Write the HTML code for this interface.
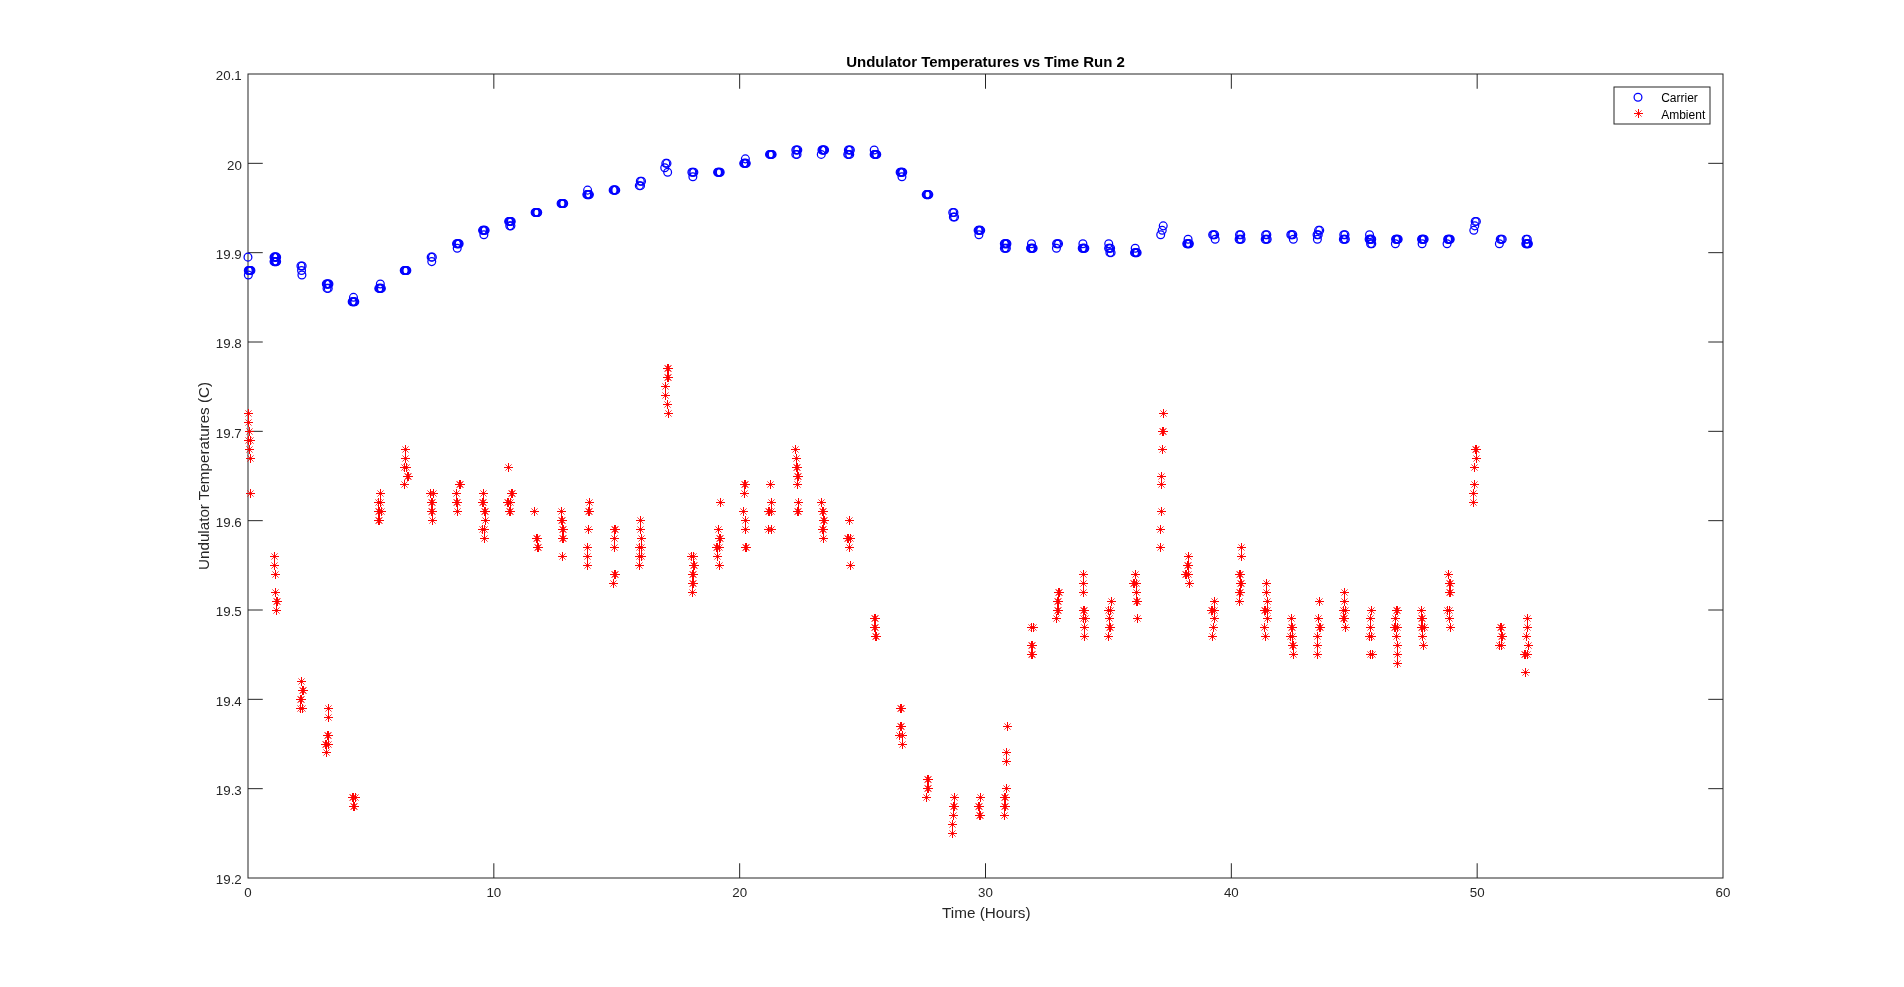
<!DOCTYPE html><html><head><meta charset="utf-8"><title>Undulator Temperatures vs Time Run 2</title>
<style>html,body{margin:0;padding:0;background:#fff;overflow:hidden}svg{display:block;will-change:transform;opacity:0.999}text{font-family:"Liberation Sans",sans-serif}</style></head><body>
<svg width="1904" height="987" viewBox="0 0 1904 987">
<rect width="1904" height="987" fill="#fff"/>
<defs>
<g id="st"><path d="M-4.5 0H4.5M0 -4.5V4.5" stroke="#f00" stroke-width="1" fill="none" shape-rendering="crispEdges"/><path d="M-3.1 -3.1L3.1 3.1M-3.1 3.1L3.1 -3.1" stroke="#f00" stroke-width="0.8" fill="none"/></g>
<circle id="ci" r="3.9" fill="none" stroke="#00f" stroke-width="1.25"/>
</defs>
<g stroke="#262626" stroke-width="1" fill="none">
<rect x="248.0" y="74.0" width="1475.0" height="804.0"/>
<path d="M493.83 878.0V863.25M493.83 74.0V88.75"/>
<path d="M739.67 878.0V863.25M739.67 74.0V88.75"/>
<path d="M985.50 878.0V863.25M985.50 74.0V88.75"/>
<path d="M1231.33 878.0V863.25M1231.33 74.0V88.75"/>
<path d="M1477.17 878.0V863.25M1477.17 74.0V88.75"/>
<path d="M248.0 788.67H262.75M1723.0 788.67H1708.25"/>
<path d="M248.0 699.33H262.75M1723.0 699.33H1708.25"/>
<path d="M248.0 610.00H262.75M1723.0 610.00H1708.25"/>
<path d="M248.0 520.67H262.75M1723.0 520.67H1708.25"/>
<path d="M248.0 431.33H262.75M1723.0 431.33H1708.25"/>
<path d="M248.0 342.00H262.75M1723.0 342.00H1708.25"/>
<path d="M248.0 252.67H262.75M1723.0 252.67H1708.25"/>
<path d="M248.0 163.33H262.75M1723.0 163.33H1708.25"/>
</g>
<g fill="#262626" font-size="13.33px">
<text x="248.00" y="897.3" text-anchor="middle">0</text>
<text x="493.83" y="897.3" text-anchor="middle">10</text>
<text x="739.67" y="897.3" text-anchor="middle">20</text>
<text x="985.50" y="897.3" text-anchor="middle">30</text>
<text x="1231.33" y="897.3" text-anchor="middle">40</text>
<text x="1477.17" y="897.3" text-anchor="middle">50</text>
<text x="1723.00" y="897.3" text-anchor="middle">60</text>
<text x="241.8" y="884.20" text-anchor="end">19.2</text>
<text x="241.8" y="794.87" text-anchor="end">19.3</text>
<text x="241.8" y="705.53" text-anchor="end">19.4</text>
<text x="241.8" y="616.20" text-anchor="end">19.5</text>
<text x="241.8" y="526.87" text-anchor="end">19.6</text>
<text x="241.8" y="437.53" text-anchor="end">19.7</text>
<text x="241.8" y="348.20" text-anchor="end">19.8</text>
<text x="241.8" y="258.87" text-anchor="end">19.9</text>
<text x="241.8" y="169.53" text-anchor="end">20</text>
<text x="241.8" y="80.20" text-anchor="end">20.1</text>
</g>
<text x="986.3" y="917.8" text-anchor="middle" font-size="15.25px" fill="#262626">Time (Hours)</text>
<text transform="translate(208.6,476) rotate(-90)" text-anchor="middle" font-size="15.2px" fill="#262626">Undulator Temperatures (C)</text>
<text x="985.5" y="66.9" text-anchor="middle" font-size="15px" font-weight="bold" fill="#000">Undulator Temperatures vs Time Run 2</text>
<g>
<use href="#ci" x="247.97" y="257.13"/>
<use href="#ci" x="248.31" y="270.53"/>
<use href="#ci" x="248.96" y="270.53"/>
<use href="#ci" x="249.61" y="270.53"/>
<use href="#ci" x="250.26" y="270.53"/>
<use href="#ci" x="250.91" y="270.53"/>
<use href="#ci" x="248.35" y="275.00"/>
<use href="#ci" x="274.03" y="257.13"/>
<use href="#ci" x="274.68" y="257.13"/>
<use href="#ci" x="275.33" y="257.13"/>
<use href="#ci" x="275.98" y="257.13"/>
<use href="#ci" x="276.63" y="257.13"/>
<use href="#ci" x="274.03" y="261.60"/>
<use href="#ci" x="274.68" y="261.60"/>
<use href="#ci" x="275.33" y="261.60"/>
<use href="#ci" x="275.98" y="261.60"/>
<use href="#ci" x="276.63" y="261.60"/>
<use href="#ci" x="300.95" y="266.07"/>
<use href="#ci" x="302.15" y="266.07"/>
<use href="#ci" x="301.55" y="270.53"/>
<use href="#ci" x="301.92" y="275.00"/>
<use href="#ci" x="326.34" y="283.93"/>
<use href="#ci" x="326.99" y="283.93"/>
<use href="#ci" x="327.64" y="283.93"/>
<use href="#ci" x="328.29" y="283.93"/>
<use href="#ci" x="328.94" y="283.93"/>
<use href="#ci" x="327.04" y="288.40"/>
<use href="#ci" x="328.24" y="288.40"/>
<use href="#ci" x="353.48" y="297.33"/>
<use href="#ci" x="352.18" y="301.80"/>
<use href="#ci" x="352.83" y="301.80"/>
<use href="#ci" x="353.48" y="301.80"/>
<use href="#ci" x="354.13" y="301.80"/>
<use href="#ci" x="354.78" y="301.80"/>
<use href="#ci" x="380.33" y="283.93"/>
<use href="#ci" x="378.78" y="288.40"/>
<use href="#ci" x="379.43" y="288.40"/>
<use href="#ci" x="380.08" y="288.40"/>
<use href="#ci" x="380.73" y="288.40"/>
<use href="#ci" x="381.38" y="288.40"/>
<use href="#ci" x="404.24" y="270.53"/>
<use href="#ci" x="404.89" y="270.53"/>
<use href="#ci" x="405.54" y="270.53"/>
<use href="#ci" x="406.19" y="270.53"/>
<use href="#ci" x="406.84" y="270.53"/>
<use href="#ci" x="431.16" y="257.13"/>
<use href="#ci" x="432.36" y="257.13"/>
<use href="#ci" x="431.76" y="261.60"/>
<use href="#ci" x="456.55" y="243.73"/>
<use href="#ci" x="457.20" y="243.73"/>
<use href="#ci" x="457.85" y="243.73"/>
<use href="#ci" x="458.50" y="243.73"/>
<use href="#ci" x="459.15" y="243.73"/>
<use href="#ci" x="457.22" y="248.20"/>
<use href="#ci" x="482.57" y="230.33"/>
<use href="#ci" x="483.22" y="230.33"/>
<use href="#ci" x="483.87" y="230.33"/>
<use href="#ci" x="484.52" y="230.33"/>
<use href="#ci" x="485.17" y="230.33"/>
<use href="#ci" x="483.87" y="234.80"/>
<use href="#ci" x="508.66" y="221.40"/>
<use href="#ci" x="509.31" y="221.40"/>
<use href="#ci" x="509.96" y="221.40"/>
<use href="#ci" x="510.61" y="221.40"/>
<use href="#ci" x="511.26" y="221.40"/>
<use href="#ci" x="509.74" y="225.87"/>
<use href="#ci" x="510.94" y="225.87"/>
<use href="#ci" x="535.13" y="212.47"/>
<use href="#ci" x="535.78" y="212.47"/>
<use href="#ci" x="536.43" y="212.47"/>
<use href="#ci" x="537.08" y="212.47"/>
<use href="#ci" x="537.73" y="212.47"/>
<use href="#ci" x="561.09" y="203.53"/>
<use href="#ci" x="561.74" y="203.53"/>
<use href="#ci" x="562.39" y="203.53"/>
<use href="#ci" x="563.04" y="203.53"/>
<use href="#ci" x="563.69" y="203.53"/>
<use href="#ci" x="587.61" y="190.13"/>
<use href="#ci" x="586.81" y="194.60"/>
<use href="#ci" x="587.46" y="194.60"/>
<use href="#ci" x="588.11" y="194.60"/>
<use href="#ci" x="588.76" y="194.60"/>
<use href="#ci" x="589.41" y="194.60"/>
<use href="#ci" x="613.15" y="190.13"/>
<use href="#ci" x="613.80" y="190.13"/>
<use href="#ci" x="614.45" y="190.13"/>
<use href="#ci" x="615.10" y="190.13"/>
<use href="#ci" x="615.75" y="190.13"/>
<use href="#ci" x="640.32" y="181.20"/>
<use href="#ci" x="641.52" y="181.20"/>
<use href="#ci" x="639.32" y="185.67"/>
<use href="#ci" x="640.52" y="185.67"/>
<use href="#ci" x="665.79" y="163.33"/>
<use href="#ci" x="666.99" y="163.33"/>
<use href="#ci" x="664.75" y="167.80"/>
<use href="#ci" x="667.65" y="172.27"/>
<use href="#ci" x="691.86" y="172.27"/>
<use href="#ci" x="692.86" y="172.27"/>
<use href="#ci" x="693.86" y="172.27"/>
<use href="#ci" x="692.86" y="176.73"/>
<use href="#ci" x="717.61" y="172.27"/>
<use href="#ci" x="718.26" y="172.27"/>
<use href="#ci" x="718.91" y="172.27"/>
<use href="#ci" x="719.56" y="172.27"/>
<use href="#ci" x="720.21" y="172.27"/>
<use href="#ci" x="745.38" y="158.87"/>
<use href="#ci" x="743.70" y="163.33"/>
<use href="#ci" x="744.35" y="163.33"/>
<use href="#ci" x="745.00" y="163.33"/>
<use href="#ci" x="745.65" y="163.33"/>
<use href="#ci" x="746.30" y="163.33"/>
<use href="#ci" x="769.54" y="154.40"/>
<use href="#ci" x="770.19" y="154.40"/>
<use href="#ci" x="770.84" y="154.40"/>
<use href="#ci" x="771.49" y="154.40"/>
<use href="#ci" x="772.14" y="154.40"/>
<use href="#ci" x="795.81" y="149.93"/>
<use href="#ci" x="796.81" y="149.93"/>
<use href="#ci" x="797.81" y="149.93"/>
<use href="#ci" x="795.83" y="154.40"/>
<use href="#ci" x="797.03" y="154.40"/>
<use href="#ci" x="821.98" y="149.93"/>
<use href="#ci" x="822.63" y="149.93"/>
<use href="#ci" x="823.28" y="149.93"/>
<use href="#ci" x="823.93" y="149.93"/>
<use href="#ci" x="824.58" y="149.93"/>
<use href="#ci" x="821.26" y="154.40"/>
<use href="#ci" x="848.37" y="149.93"/>
<use href="#ci" x="849.37" y="149.93"/>
<use href="#ci" x="850.37" y="149.93"/>
<use href="#ci" x="847.74" y="154.40"/>
<use href="#ci" x="848.74" y="154.40"/>
<use href="#ci" x="849.74" y="154.40"/>
<use href="#ci" x="874.20" y="149.93"/>
<use href="#ci" x="874.16" y="154.40"/>
<use href="#ci" x="874.81" y="154.40"/>
<use href="#ci" x="875.46" y="154.40"/>
<use href="#ci" x="876.11" y="154.40"/>
<use href="#ci" x="876.76" y="154.40"/>
<use href="#ci" x="900.13" y="172.27"/>
<use href="#ci" x="900.78" y="172.27"/>
<use href="#ci" x="901.43" y="172.27"/>
<use href="#ci" x="902.08" y="172.27"/>
<use href="#ci" x="902.73" y="172.27"/>
<use href="#ci" x="901.93" y="176.73"/>
<use href="#ci" x="926.22" y="194.60"/>
<use href="#ci" x="926.87" y="194.60"/>
<use href="#ci" x="927.52" y="194.60"/>
<use href="#ci" x="928.17" y="194.60"/>
<use href="#ci" x="928.82" y="194.60"/>
<use href="#ci" x="952.72" y="212.47"/>
<use href="#ci" x="953.92" y="212.47"/>
<use href="#ci" x="953.35" y="216.93"/>
<use href="#ci" x="954.55" y="216.93"/>
<use href="#ci" x="978.11" y="230.33"/>
<use href="#ci" x="978.76" y="230.33"/>
<use href="#ci" x="979.41" y="230.33"/>
<use href="#ci" x="980.06" y="230.33"/>
<use href="#ci" x="980.71" y="230.33"/>
<use href="#ci" x="978.91" y="234.80"/>
<use href="#ci" x="1004.33" y="243.73"/>
<use href="#ci" x="1004.98" y="243.73"/>
<use href="#ci" x="1005.63" y="243.73"/>
<use href="#ci" x="1006.28" y="243.73"/>
<use href="#ci" x="1006.93" y="243.73"/>
<use href="#ci" x="1004.38" y="248.20"/>
<use href="#ci" x="1005.38" y="248.20"/>
<use href="#ci" x="1006.38" y="248.20"/>
<use href="#ci" x="1031.47" y="243.73"/>
<use href="#ci" x="1030.55" y="248.20"/>
<use href="#ci" x="1031.20" y="248.20"/>
<use href="#ci" x="1031.85" y="248.20"/>
<use href="#ci" x="1032.50" y="248.20"/>
<use href="#ci" x="1033.15" y="248.20"/>
<use href="#ci" x="1056.56" y="243.73"/>
<use href="#ci" x="1057.56" y="243.73"/>
<use href="#ci" x="1058.56" y="243.73"/>
<use href="#ci" x="1056.43" y="248.20"/>
<use href="#ci" x="1082.90" y="243.73"/>
<use href="#ci" x="1082.23" y="248.20"/>
<use href="#ci" x="1082.88" y="248.20"/>
<use href="#ci" x="1083.53" y="248.20"/>
<use href="#ci" x="1084.18" y="248.20"/>
<use href="#ci" x="1084.83" y="248.20"/>
<use href="#ci" x="1108.74" y="243.73"/>
<use href="#ci" x="1108.62" y="248.20"/>
<use href="#ci" x="1109.62" y="248.20"/>
<use href="#ci" x="1110.62" y="248.20"/>
<use href="#ci" x="1109.90" y="252.67"/>
<use href="#ci" x="1111.10" y="252.67"/>
<use href="#ci" x="1135.21" y="248.20"/>
<use href="#ci" x="1134.54" y="252.67"/>
<use href="#ci" x="1135.19" y="252.67"/>
<use href="#ci" x="1135.84" y="252.67"/>
<use href="#ci" x="1136.49" y="252.67"/>
<use href="#ci" x="1137.14" y="252.67"/>
<use href="#ci" x="1163.24" y="225.87"/>
<use href="#ci" x="1162.23" y="230.33"/>
<use href="#ci" x="1160.71" y="234.80"/>
<use href="#ci" x="1188.07" y="239.27"/>
<use href="#ci" x="1186.77" y="243.73"/>
<use href="#ci" x="1187.42" y="243.73"/>
<use href="#ci" x="1188.07" y="243.73"/>
<use href="#ci" x="1188.72" y="243.73"/>
<use href="#ci" x="1189.37" y="243.73"/>
<use href="#ci" x="1212.66" y="234.80"/>
<use href="#ci" x="1213.66" y="234.80"/>
<use href="#ci" x="1214.66" y="234.80"/>
<use href="#ci" x="1215.17" y="239.27"/>
<use href="#ci" x="1239.53" y="234.80"/>
<use href="#ci" x="1240.73" y="234.80"/>
<use href="#ci" x="1239.13" y="239.27"/>
<use href="#ci" x="1240.13" y="239.27"/>
<use href="#ci" x="1241.13" y="239.27"/>
<use href="#ci" x="1265.62" y="234.80"/>
<use href="#ci" x="1266.82" y="234.80"/>
<use href="#ci" x="1265.22" y="239.27"/>
<use href="#ci" x="1266.22" y="239.27"/>
<use href="#ci" x="1267.22" y="239.27"/>
<use href="#ci" x="1290.81" y="234.80"/>
<use href="#ci" x="1291.81" y="234.80"/>
<use href="#ci" x="1292.81" y="234.80"/>
<use href="#ci" x="1293.32" y="239.27"/>
<use href="#ci" x="1318.56" y="230.33"/>
<use href="#ci" x="1319.76" y="230.33"/>
<use href="#ci" x="1317.05" y="234.80"/>
<use href="#ci" x="1318.25" y="234.80"/>
<use href="#ci" x="1317.39" y="239.27"/>
<use href="#ci" x="1343.77" y="234.80"/>
<use href="#ci" x="1344.97" y="234.80"/>
<use href="#ci" x="1343.37" y="239.27"/>
<use href="#ci" x="1344.37" y="239.27"/>
<use href="#ci" x="1345.37" y="239.27"/>
<use href="#ci" x="1369.54" y="234.80"/>
<use href="#ci" x="1369.12" y="239.27"/>
<use href="#ci" x="1369.77" y="239.27"/>
<use href="#ci" x="1370.42" y="239.27"/>
<use href="#ci" x="1371.07" y="239.27"/>
<use href="#ci" x="1371.72" y="239.27"/>
<use href="#ci" x="1370.58" y="243.73"/>
<use href="#ci" x="1371.78" y="243.73"/>
<use href="#ci" x="1395.59" y="239.27"/>
<use href="#ci" x="1396.24" y="239.27"/>
<use href="#ci" x="1396.89" y="239.27"/>
<use href="#ci" x="1397.54" y="239.27"/>
<use href="#ci" x="1398.19" y="239.27"/>
<use href="#ci" x="1395.38" y="243.73"/>
<use href="#ci" x="1421.56" y="239.27"/>
<use href="#ci" x="1422.21" y="239.27"/>
<use href="#ci" x="1422.86" y="239.27"/>
<use href="#ci" x="1423.51" y="239.27"/>
<use href="#ci" x="1424.16" y="239.27"/>
<use href="#ci" x="1422.10" y="243.73"/>
<use href="#ci" x="1447.65" y="239.27"/>
<use href="#ci" x="1448.30" y="239.27"/>
<use href="#ci" x="1448.95" y="239.27"/>
<use href="#ci" x="1449.60" y="239.27"/>
<use href="#ci" x="1450.25" y="239.27"/>
<use href="#ci" x="1447.06" y="243.73"/>
<use href="#ci" x="1475.20" y="221.40"/>
<use href="#ci" x="1476.40" y="221.40"/>
<use href="#ci" x="1474.79" y="225.87"/>
<use href="#ci" x="1473.78" y="230.33"/>
<use href="#ci" x="1500.26" y="239.27"/>
<use href="#ci" x="1501.26" y="239.27"/>
<use href="#ci" x="1502.26" y="239.27"/>
<use href="#ci" x="1499.37" y="243.73"/>
<use href="#ci" x="1526.12" y="239.27"/>
<use href="#ci" x="1527.32" y="239.27"/>
<use href="#ci" x="1525.80" y="243.73"/>
<use href="#ci" x="1526.45" y="243.73"/>
<use href="#ci" x="1527.10" y="243.73"/>
<use href="#ci" x="1527.75" y="243.73"/>
<use href="#ci" x="1528.40" y="243.73"/>
</g>
<g>
<use href="#st" x="248.5" y="413.5"/>
<use href="#st" x="248.5" y="422.5"/>
<use href="#st" x="249.5" y="431.5"/>
<use href="#st" x="248.5" y="440.5"/>
<use href="#st" x="250.5" y="440.5"/>
<use href="#st" x="249.5" y="449.5"/>
<use href="#st" x="250.5" y="458.5"/>
<use href="#st" x="250.5" y="493.5"/>
<use href="#st" x="274.5" y="556.5"/>
<use href="#st" x="274.5" y="565.5"/>
<use href="#st" x="275.5" y="574.5"/>
<use href="#st" x="275.5" y="592.5"/>
<use href="#st" x="276.5" y="601.5"/>
<use href="#st" x="277.5" y="601.5"/>
<use href="#st" x="276.5" y="610.5"/>
<use href="#st" x="380.5" y="493.5"/>
<use href="#st" x="378.5" y="502.5"/>
<use href="#st" x="380.5" y="502.5"/>
<use href="#st" x="378.5" y="511.5"/>
<use href="#st" x="379.5" y="511.5"/>
<use href="#st" x="381.5" y="511.5"/>
<use href="#st" x="378.5" y="520.5"/>
<use href="#st" x="379.5" y="520.5"/>
<use href="#st" x="405.5" y="449.5"/>
<use href="#st" x="405.5" y="458.5"/>
<use href="#st" x="404.5" y="467.5"/>
<use href="#st" x="406.5" y="467.5"/>
<use href="#st" x="407.5" y="476.5"/>
<use href="#st" x="408.5" y="476.5"/>
<use href="#st" x="404.5" y="484.5"/>
<use href="#st" x="430.5" y="493.5"/>
<use href="#st" x="433.5" y="493.5"/>
<use href="#st" x="431.5" y="502.5"/>
<use href="#st" x="432.5" y="502.5"/>
<use href="#st" x="431.5" y="511.5"/>
<use href="#st" x="432.5" y="511.5"/>
<use href="#st" x="432.5" y="520.5"/>
<use href="#st" x="459.5" y="484.5"/>
<use href="#st" x="460.5" y="484.5"/>
<use href="#st" x="456.5" y="493.5"/>
<use href="#st" x="456.5" y="502.5"/>
<use href="#st" x="457.5" y="502.5"/>
<use href="#st" x="457.5" y="511.5"/>
<use href="#st" x="483.5" y="493.5"/>
<use href="#st" x="482.5" y="502.5"/>
<use href="#st" x="483.5" y="502.5"/>
<use href="#st" x="484.5" y="511.5"/>
<use href="#st" x="485.5" y="511.5"/>
<use href="#st" x="485.5" y="520.5"/>
<use href="#st" x="482.5" y="529.5"/>
<use href="#st" x="484.5" y="529.5"/>
<use href="#st" x="484.5" y="538.5"/>
<use href="#st" x="508.5" y="467.5"/>
<use href="#st" x="511.5" y="493.5"/>
<use href="#st" x="512.5" y="493.5"/>
<use href="#st" x="507.5" y="502.5"/>
<use href="#st" x="508.5" y="502.5"/>
<use href="#st" x="510.5" y="502.5"/>
<use href="#st" x="509.5" y="511.5"/>
<use href="#st" x="510.5" y="511.5"/>
<use href="#st" x="534.5" y="511.5"/>
<use href="#st" x="536.5" y="538.5"/>
<use href="#st" x="537.5" y="538.5"/>
<use href="#st" x="537.5" y="547.5"/>
<use href="#st" x="538.5" y="547.5"/>
<use href="#st" x="561.5" y="511.5"/>
<use href="#st" x="561.5" y="520.5"/>
<use href="#st" x="562.5" y="520.5"/>
<use href="#st" x="562.5" y="529.5"/>
<use href="#st" x="563.5" y="529.5"/>
<use href="#st" x="562.5" y="538.5"/>
<use href="#st" x="563.5" y="538.5"/>
<use href="#st" x="562.5" y="556.5"/>
<use href="#st" x="589.5" y="502.5"/>
<use href="#st" x="588.5" y="511.5"/>
<use href="#st" x="589.5" y="511.5"/>
<use href="#st" x="588.5" y="529.5"/>
<use href="#st" x="587.5" y="547.5"/>
<use href="#st" x="587.5" y="556.5"/>
<use href="#st" x="587.5" y="565.5"/>
<use href="#st" x="614.5" y="529.5"/>
<use href="#st" x="615.5" y="529.5"/>
<use href="#st" x="614.5" y="538.5"/>
<use href="#st" x="614.5" y="547.5"/>
<use href="#st" x="614.5" y="574.5"/>
<use href="#st" x="615.5" y="574.5"/>
<use href="#st" x="613.5" y="583.5"/>
<use href="#st" x="640.5" y="520.5"/>
<use href="#st" x="640.5" y="529.5"/>
<use href="#st" x="641.5" y="538.5"/>
<use href="#st" x="639.5" y="547.5"/>
<use href="#st" x="641.5" y="547.5"/>
<use href="#st" x="639.5" y="556.5"/>
<use href="#st" x="641.5" y="556.5"/>
<use href="#st" x="639.5" y="565.5"/>
<use href="#st" x="667.5" y="368.5"/>
<use href="#st" x="668.5" y="368.5"/>
<use href="#st" x="667.5" y="377.5"/>
<use href="#st" x="668.5" y="377.5"/>
<use href="#st" x="665.5" y="386.5"/>
<use href="#st" x="665.5" y="395.5"/>
<use href="#st" x="667.5" y="404.5"/>
<use href="#st" x="668.5" y="413.5"/>
<use href="#st" x="691.5" y="556.5"/>
<use href="#st" x="693.5" y="556.5"/>
<use href="#st" x="693.5" y="565.5"/>
<use href="#st" x="694.5" y="565.5"/>
<use href="#st" x="692.5" y="574.5"/>
<use href="#st" x="693.5" y="574.5"/>
<use href="#st" x="692.5" y="583.5"/>
<use href="#st" x="693.5" y="583.5"/>
<use href="#st" x="692.5" y="592.5"/>
<use href="#st" x="720.5" y="502.5"/>
<use href="#st" x="718.5" y="529.5"/>
<use href="#st" x="719.5" y="538.5"/>
<use href="#st" x="720.5" y="538.5"/>
<use href="#st" x="716.5" y="547.5"/>
<use href="#st" x="717.5" y="547.5"/>
<use href="#st" x="719.5" y="547.5"/>
<use href="#st" x="717.5" y="556.5"/>
<use href="#st" x="719.5" y="565.5"/>
<use href="#st" x="744.5" y="484.5"/>
<use href="#st" x="745.5" y="484.5"/>
<use href="#st" x="744.5" y="493.5"/>
<use href="#st" x="743.5" y="511.5"/>
<use href="#st" x="745.5" y="520.5"/>
<use href="#st" x="745.5" y="529.5"/>
<use href="#st" x="745.5" y="547.5"/>
<use href="#st" x="746.5" y="547.5"/>
<use href="#st" x="770.5" y="484.5"/>
<use href="#st" x="771.5" y="502.5"/>
<use href="#st" x="768.5" y="511.5"/>
<use href="#st" x="769.5" y="511.5"/>
<use href="#st" x="771.5" y="511.5"/>
<use href="#st" x="768.5" y="529.5"/>
<use href="#st" x="771.5" y="529.5"/>
<use href="#st" x="795.5" y="449.5"/>
<use href="#st" x="796.5" y="458.5"/>
<use href="#st" x="796.5" y="467.5"/>
<use href="#st" x="797.5" y="467.5"/>
<use href="#st" x="797.5" y="476.5"/>
<use href="#st" x="798.5" y="476.5"/>
<use href="#st" x="797.5" y="484.5"/>
<use href="#st" x="798.5" y="502.5"/>
<use href="#st" x="797.5" y="511.5"/>
<use href="#st" x="798.5" y="511.5"/>
<use href="#st" x="821.5" y="502.5"/>
<use href="#st" x="822.5" y="511.5"/>
<use href="#st" x="823.5" y="511.5"/>
<use href="#st" x="823.5" y="520.5"/>
<use href="#st" x="824.5" y="520.5"/>
<use href="#st" x="822.5" y="529.5"/>
<use href="#st" x="823.5" y="529.5"/>
<use href="#st" x="823.5" y="538.5"/>
<use href="#st" x="849.5" y="520.5"/>
<use href="#st" x="847.5" y="538.5"/>
<use href="#st" x="848.5" y="538.5"/>
<use href="#st" x="850.5" y="538.5"/>
<use href="#st" x="849.5" y="547.5"/>
<use href="#st" x="850.5" y="565.5"/>
<use href="#st" x="874.5" y="618.5"/>
<use href="#st" x="875.5" y="618.5"/>
<use href="#st" x="874.5" y="627.5"/>
<use href="#st" x="875.5" y="627.5"/>
<use href="#st" x="875.5" y="636.5"/>
<use href="#st" x="876.5" y="636.5"/>
<use href="#st" x="1031.5" y="627.5"/>
<use href="#st" x="1033.5" y="627.5"/>
<use href="#st" x="1031.5" y="645.5"/>
<use href="#st" x="1032.5" y="645.5"/>
<use href="#st" x="1031.5" y="654.5"/>
<use href="#st" x="1032.5" y="654.5"/>
<use href="#st" x="1058.5" y="592.5"/>
<use href="#st" x="1059.5" y="592.5"/>
<use href="#st" x="1057.5" y="601.5"/>
<use href="#st" x="1058.5" y="601.5"/>
<use href="#st" x="1057.5" y="610.5"/>
<use href="#st" x="1058.5" y="610.5"/>
<use href="#st" x="1056.5" y="618.5"/>
<use href="#st" x="1083.5" y="574.5"/>
<use href="#st" x="1083.5" y="583.5"/>
<use href="#st" x="1083.5" y="592.5"/>
<use href="#st" x="1083.5" y="610.5"/>
<use href="#st" x="1084.5" y="610.5"/>
<use href="#st" x="1083.5" y="618.5"/>
<use href="#st" x="1085.5" y="618.5"/>
<use href="#st" x="1084.5" y="627.5"/>
<use href="#st" x="1084.5" y="636.5"/>
<use href="#st" x="301.5" y="681.5"/>
<use href="#st" x="302.5" y="690.5"/>
<use href="#st" x="303.5" y="690.5"/>
<use href="#st" x="300.5" y="699.5"/>
<use href="#st" x="301.5" y="699.5"/>
<use href="#st" x="300.5" y="708.5"/>
<use href="#st" x="302.5" y="708.5"/>
<use href="#st" x="328.5" y="708.5"/>
<use href="#st" x="328.5" y="717.5"/>
<use href="#st" x="327.5" y="735.5"/>
<use href="#st" x="328.5" y="735.5"/>
<use href="#st" x="325.5" y="744.5"/>
<use href="#st" x="326.5" y="744.5"/>
<use href="#st" x="328.5" y="744.5"/>
<use href="#st" x="326.5" y="752.5"/>
<use href="#st" x="352.5" y="797.5"/>
<use href="#st" x="353.5" y="797.5"/>
<use href="#st" x="355.5" y="797.5"/>
<use href="#st" x="353.5" y="806.5"/>
<use href="#st" x="354.5" y="806.5"/>
<use href="#st" x="900.5" y="708.5"/>
<use href="#st" x="901.5" y="708.5"/>
<use href="#st" x="900.5" y="726.5"/>
<use href="#st" x="901.5" y="726.5"/>
<use href="#st" x="899.5" y="735.5"/>
<use href="#st" x="902.5" y="735.5"/>
<use href="#st" x="902.5" y="744.5"/>
<use href="#st" x="927.5" y="779.5"/>
<use href="#st" x="928.5" y="779.5"/>
<use href="#st" x="927.5" y="788.5"/>
<use href="#st" x="928.5" y="788.5"/>
<use href="#st" x="926.5" y="797.5"/>
<use href="#st" x="954.5" y="797.5"/>
<use href="#st" x="953.5" y="806.5"/>
<use href="#st" x="954.5" y="806.5"/>
<use href="#st" x="953.5" y="815.5"/>
<use href="#st" x="952.5" y="824.5"/>
<use href="#st" x="952.5" y="833.5"/>
<use href="#st" x="980.5" y="797.5"/>
<use href="#st" x="978.5" y="806.5"/>
<use href="#st" x="979.5" y="806.5"/>
<use href="#st" x="979.5" y="815.5"/>
<use href="#st" x="980.5" y="815.5"/>
<use href="#st" x="1007.5" y="726.5"/>
<use href="#st" x="1006.5" y="752.5"/>
<use href="#st" x="1006.5" y="761.5"/>
<use href="#st" x="1006.5" y="788.5"/>
<use href="#st" x="1004.5" y="797.5"/>
<use href="#st" x="1005.5" y="797.5"/>
<use href="#st" x="1004.5" y="806.5"/>
<use href="#st" x="1005.5" y="806.5"/>
<use href="#st" x="1004.5" y="815.5"/>
<use href="#st" x="1111.5" y="601.5"/>
<use href="#st" x="1108.5" y="610.5"/>
<use href="#st" x="1110.5" y="610.5"/>
<use href="#st" x="1109.5" y="618.5"/>
<use href="#st" x="1109.5" y="627.5"/>
<use href="#st" x="1110.5" y="627.5"/>
<use href="#st" x="1108.5" y="636.5"/>
<use href="#st" x="1135.5" y="574.5"/>
<use href="#st" x="1133.5" y="583.5"/>
<use href="#st" x="1134.5" y="583.5"/>
<use href="#st" x="1136.5" y="583.5"/>
<use href="#st" x="1136.5" y="592.5"/>
<use href="#st" x="1136.5" y="601.5"/>
<use href="#st" x="1137.5" y="601.5"/>
<use href="#st" x="1137.5" y="618.5"/>
<use href="#st" x="1163.5" y="413.5"/>
<use href="#st" x="1162.5" y="431.5"/>
<use href="#st" x="1163.5" y="431.5"/>
<use href="#st" x="1162.5" y="449.5"/>
<use href="#st" x="1161.5" y="476.5"/>
<use href="#st" x="1161.5" y="484.5"/>
<use href="#st" x="1161.5" y="511.5"/>
<use href="#st" x="1160.5" y="529.5"/>
<use href="#st" x="1160.5" y="547.5"/>
<use href="#st" x="1188.5" y="556.5"/>
<use href="#st" x="1187.5" y="565.5"/>
<use href="#st" x="1188.5" y="565.5"/>
<use href="#st" x="1185.5" y="574.5"/>
<use href="#st" x="1186.5" y="574.5"/>
<use href="#st" x="1188.5" y="574.5"/>
<use href="#st" x="1189.5" y="583.5"/>
<use href="#st" x="1214.5" y="601.5"/>
<use href="#st" x="1211.5" y="610.5"/>
<use href="#st" x="1212.5" y="610.5"/>
<use href="#st" x="1214.5" y="610.5"/>
<use href="#st" x="1214.5" y="618.5"/>
<use href="#st" x="1213.5" y="627.5"/>
<use href="#st" x="1212.5" y="636.5"/>
<use href="#st" x="1241.5" y="547.5"/>
<use href="#st" x="1241.5" y="556.5"/>
<use href="#st" x="1239.5" y="574.5"/>
<use href="#st" x="1240.5" y="574.5"/>
<use href="#st" x="1240.5" y="583.5"/>
<use href="#st" x="1241.5" y="583.5"/>
<use href="#st" x="1239.5" y="592.5"/>
<use href="#st" x="1240.5" y="592.5"/>
<use href="#st" x="1239.5" y="601.5"/>
<use href="#st" x="1266.5" y="583.5"/>
<use href="#st" x="1266.5" y="592.5"/>
<use href="#st" x="1267.5" y="601.5"/>
<use href="#st" x="1264.5" y="610.5"/>
<use href="#st" x="1265.5" y="610.5"/>
<use href="#st" x="1267.5" y="610.5"/>
<use href="#st" x="1267.5" y="618.5"/>
<use href="#st" x="1264.5" y="627.5"/>
<use href="#st" x="1265.5" y="636.5"/>
<use href="#st" x="1291.5" y="618.5"/>
<use href="#st" x="1291.5" y="627.5"/>
<use href="#st" x="1292.5" y="627.5"/>
<use href="#st" x="1290.5" y="636.5"/>
<use href="#st" x="1292.5" y="636.5"/>
<use href="#st" x="1292.5" y="645.5"/>
<use href="#st" x="1293.5" y="645.5"/>
<use href="#st" x="1293.5" y="654.5"/>
<use href="#st" x="1319.5" y="601.5"/>
<use href="#st" x="1318.5" y="618.5"/>
<use href="#st" x="1319.5" y="627.5"/>
<use href="#st" x="1320.5" y="627.5"/>
<use href="#st" x="1317.5" y="636.5"/>
<use href="#st" x="1317.5" y="645.5"/>
<use href="#st" x="1317.5" y="654.5"/>
<use href="#st" x="1344.5" y="592.5"/>
<use href="#st" x="1344.5" y="601.5"/>
<use href="#st" x="1343.5" y="610.5"/>
<use href="#st" x="1345.5" y="610.5"/>
<use href="#st" x="1343.5" y="618.5"/>
<use href="#st" x="1344.5" y="618.5"/>
<use href="#st" x="1345.5" y="627.5"/>
<use href="#st" x="1371.5" y="610.5"/>
<use href="#st" x="1370.5" y="618.5"/>
<use href="#st" x="1370.5" y="627.5"/>
<use href="#st" x="1369.5" y="636.5"/>
<use href="#st" x="1371.5" y="636.5"/>
<use href="#st" x="1370.5" y="654.5"/>
<use href="#st" x="1372.5" y="654.5"/>
<use href="#st" x="1396.5" y="610.5"/>
<use href="#st" x="1397.5" y="610.5"/>
<use href="#st" x="1395.5" y="618.5"/>
<use href="#st" x="1394.5" y="627.5"/>
<use href="#st" x="1395.5" y="627.5"/>
<use href="#st" x="1397.5" y="627.5"/>
<use href="#st" x="1396.5" y="636.5"/>
<use href="#st" x="1397.5" y="645.5"/>
<use href="#st" x="1397.5" y="654.5"/>
<use href="#st" x="1397.5" y="663.5"/>
<use href="#st" x="1421.5" y="610.5"/>
<use href="#st" x="1421.5" y="618.5"/>
<use href="#st" x="1422.5" y="618.5"/>
<use href="#st" x="1421.5" y="627.5"/>
<use href="#st" x="1422.5" y="627.5"/>
<use href="#st" x="1424.5" y="627.5"/>
<use href="#st" x="1422.5" y="636.5"/>
<use href="#st" x="1423.5" y="645.5"/>
<use href="#st" x="1448.5" y="574.5"/>
<use href="#st" x="1449.5" y="583.5"/>
<use href="#st" x="1450.5" y="583.5"/>
<use href="#st" x="1449.5" y="592.5"/>
<use href="#st" x="1450.5" y="592.5"/>
<use href="#st" x="1447.5" y="610.5"/>
<use href="#st" x="1449.5" y="610.5"/>
<use href="#st" x="1449.5" y="618.5"/>
<use href="#st" x="1450.5" y="627.5"/>
<use href="#st" x="1475.5" y="449.5"/>
<use href="#st" x="1476.5" y="449.5"/>
<use href="#st" x="1476.5" y="458.5"/>
<use href="#st" x="1474.5" y="467.5"/>
<use href="#st" x="1474.5" y="484.5"/>
<use href="#st" x="1473.5" y="493.5"/>
<use href="#st" x="1473.5" y="502.5"/>
<use href="#st" x="1500.5" y="627.5"/>
<use href="#st" x="1501.5" y="627.5"/>
<use href="#st" x="1501.5" y="636.5"/>
<use href="#st" x="1502.5" y="636.5"/>
<use href="#st" x="1499.5" y="645.5"/>
<use href="#st" x="1501.5" y="645.5"/>
<use href="#st" x="1527.5" y="618.5"/>
<use href="#st" x="1527.5" y="627.5"/>
<use href="#st" x="1526.5" y="636.5"/>
<use href="#st" x="1528.5" y="645.5"/>
<use href="#st" x="1524.5" y="654.5"/>
<use href="#st" x="1525.5" y="654.5"/>
<use href="#st" x="1527.5" y="654.5"/>
<use href="#st" x="1525.5" y="672.5"/>
</g>
<rect x="1614" y="87" width="96" height="37" fill="#fff" stroke="#262626" stroke-width="1"/>
<use href="#ci" x="1638" y="97.2"/>
<use href="#st" x="1638.5" y="113.5"/>
<g font-size="12px" fill="#000"><text x="1661.2" y="102">Carrier</text><text x="1661.2" y="118.7">Ambient</text></g>
</svg></body></html>
